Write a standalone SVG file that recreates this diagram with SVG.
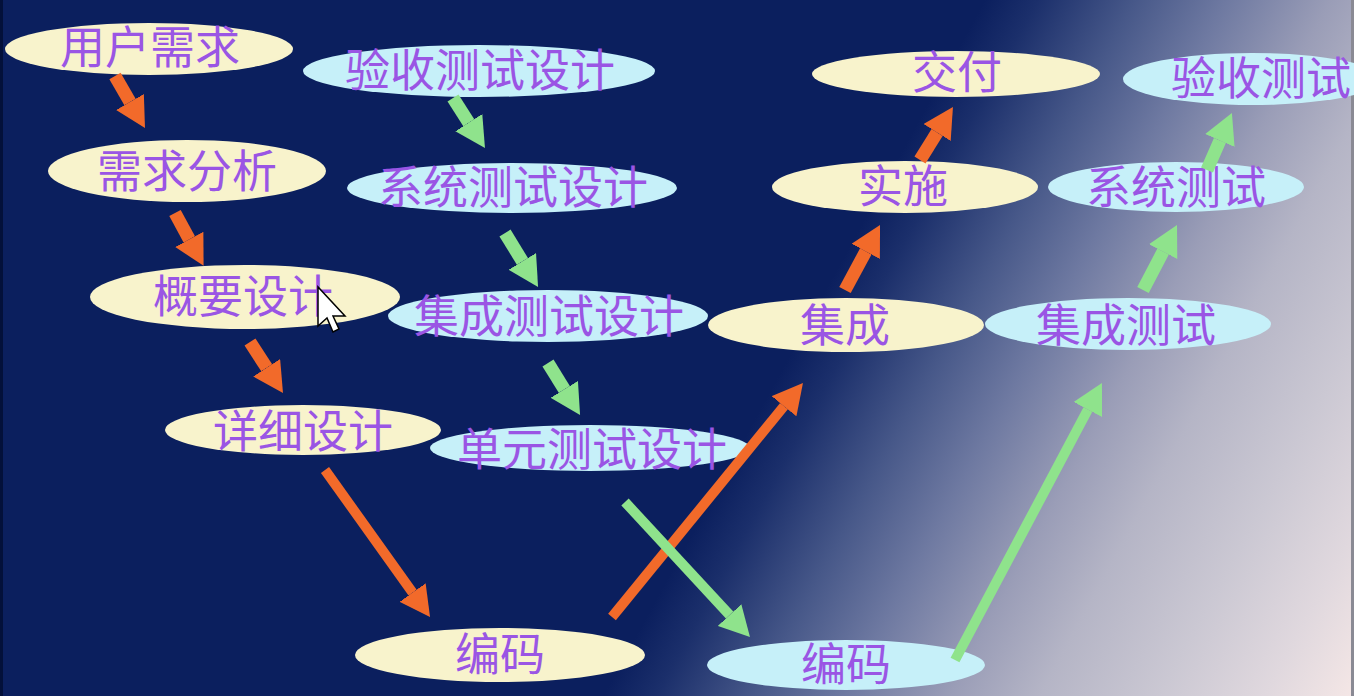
<svg xmlns="http://www.w3.org/2000/svg" width="1354" height="696" viewBox="0 0 1354 696">
<defs>
<linearGradient id="bg" gradientUnits="userSpaceOnUse" x1="806" y1="326" x2="1384" y2="643">
<stop offset="0" stop-color="#0b1f5e"/>
<stop offset="0.07" stop-color="#1b2f6b"/>
<stop offset="0.2" stop-color="#475889"/>
<stop offset="0.32" stop-color="#6e79a1"/>
<stop offset="0.46" stop-color="#9a9db7"/>
<stop offset="0.58" stop-color="#b5b5c6"/>
<stop offset="0.74" stop-color="#cbc8d3"/>
<stop offset="0.88" stop-color="#e0d8de"/>
<stop offset="1" stop-color="#f5e7e6"/>
</linearGradient>
<marker id="hO" markerUnits="userSpaceOnUse" markerWidth="30" markerHeight="32" viewBox="0 0 30 32" refX="0" refY="16" orient="auto">
<path d="M0,0 L30,16 L0,32 z" fill="#f26a2a"/>
</marker>
<marker id="hG" markerUnits="userSpaceOnUse" markerWidth="30" markerHeight="32" viewBox="0 0 30 32" refX="0" refY="16" orient="auto">
<path d="M0,0 L30,16 L0,32 z" fill="#8fe38c"/>
</marker>
</defs>
<style>
.y{fill:#f8f3cc}
.b{fill:#c6f0f9}
.t{font-family:"Noto Sans CJK SC","Noto Sans CJK TC",sans-serif;font-size:45px;fill:#9a55e4;text-anchor:middle}
.o{stroke:#f26a2a;fill:none;marker-end:url(#hO)}
.g{stroke:#8fe38c;fill:none;marker-end:url(#hG)}
.s{stroke-width:13}
.l{stroke-width:10}
</style>
<rect x="0" y="0" width="1354" height="696" fill="url(#bg)"/>
<rect x="0" y="0" width="3" height="696" fill="#03103a"/>
<rect x="1351" y="0" width="3" height="696" fill="#8a8a94"/>

<g id="n-yhxq"><ellipse class="y" cx="149" cy="49" rx="144" ry="26"/><text class="t" x="150" y="64">用户需求</text></g>
<g id="n-xqfx"><ellipse class="y" cx="187" cy="171" rx="139" ry="31"/><text class="t" x="187" y="188">需求分析</text></g>
<g id="n-gysj"><ellipse class="y" cx="245" cy="297" rx="155" ry="32"/><text class="t" x="243" y="313">概要设计</text></g>
<g id="n-xxsj"><ellipse class="y" cx="303" cy="430" rx="138" ry="25"/><text class="t" x="303" y="448">详细设计</text></g>
<g id="n-bm1"><ellipse class="y" cx="500" cy="655" rx="145" ry="27"/><text class="t" x="500" y="671">编码</text></g>
<g id="n-ysjc"><ellipse class="y" cx="846" cy="325" rx="138" ry="27"/><text class="t" x="845" y="342">集成</text></g>
<g id="n-ss"><ellipse class="y" cx="905" cy="187" rx="133" ry="26"/><text class="t" x="903" y="203">实施</text></g>
<g id="n-jf"><ellipse class="y" cx="956" cy="74" rx="144" ry="23"/><text class="t" x="957" y="89">交付</text></g>

<g id="n-ysd"><ellipse class="b" cx="479" cy="71" rx="176" ry="26"/><text class="t" x="480" y="87">验收测试设计</text></g>
<g id="n-xtd"><ellipse class="b" cx="512" cy="188" rx="165" ry="25"/><text class="t" x="513" y="204">系统测试设计</text></g>
<g id="n-jcd"><ellipse class="b" cx="548" cy="316" rx="160" ry="26"/><text class="t" x="549" y="333">集成测试设计</text></g>
<g id="n-dyd"><ellipse class="b" cx="590" cy="448" rx="160" ry="23"/><text class="t" x="592" y="466">单元测试设计</text></g>
<g id="n-bm2"><ellipse class="b" cx="846" cy="665" rx="139" ry="25"/><text class="t" x="846" y="681">编码</text></g>
<g id="n-jcs"><ellipse class="b" cx="1128" cy="324" rx="143" ry="26"/><text class="t" x="1126" y="342">集成测试</text></g>
<g id="n-xts"><ellipse class="b" cx="1176" cy="187" rx="128" ry="25"/><text class="t" x="1176" y="204">系统测试</text></g>
<g id="n-yss"><ellipse class="b" cx="1252" cy="79" rx="129" ry="26"/><text class="t" x="1261" y="95">验收测试</text></g>

<g id="connectors">
<line class="o s" x1="115" y1="76" x2="130" y2="102"/>
<line class="o s" x1="175" y1="213" x2="189.3" y2="239.4"/>
<line class="o s" x1="250" y1="342" x2="266.7" y2="367.8"/>
<line class="o l" x1="325" y1="470" x2="412.6" y2="592.6"/>
<line class="o l" x1="612" y1="617" x2="784" y2="406.2"/>
<line class="o s" x1="845" y1="290" x2="865.8" y2="251.4"/>
<line class="o s" x1="920" y1="160" x2="937.1" y2="132.5"/>
<line class="g s" x1="453" y1="98" x2="468.8" y2="122.7"/>
<line class="g s" x1="505" y1="233" x2="522.4" y2="261.4"/>
<line class="g s" x1="548" y1="363" x2="564.3" y2="389.4"/>
<line class="g l" x1="625" y1="502" x2="729.6" y2="615"/>
<line class="g l" x1="955" y1="660" x2="1087.9" y2="409.5"/>
<line class="g s" x1="1143" y1="290" x2="1163.1" y2="251.6"/>
<line class="g s" x1="1207" y1="170" x2="1219.9" y2="140.5"/>
</g>

<path id="cursor" d="M318,287 L318,326 L327,318 L333,332 L339,329 L333,316 L345,316 Z" fill="#ffffff" stroke="#000000" stroke-width="1.5" stroke-linejoin="miter"/>
</svg>
